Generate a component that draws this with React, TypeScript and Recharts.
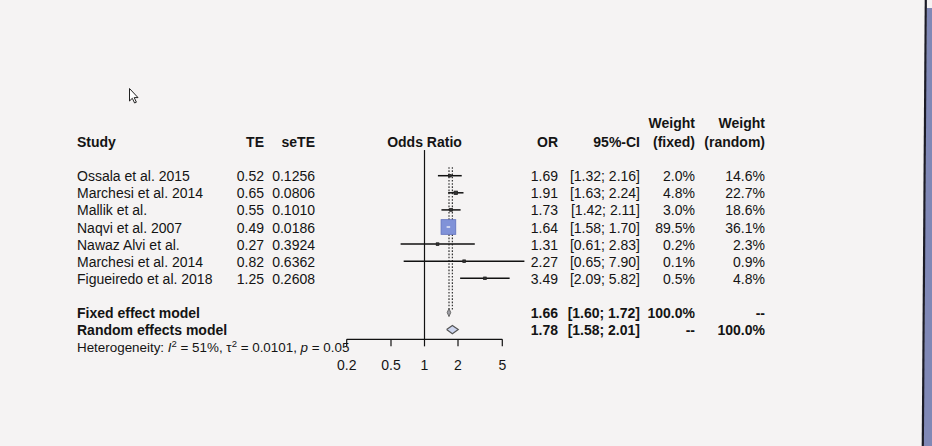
import React from 'react';
import { ComposedChart, Scatter, XAxis, YAxis, ReferenceLine } from 'recharts';

// ---------- data ----------
const studies = [
  'Ossala et al. 2015',
  'Marchesi et al. 2014',
  'Mallik et al.',
  'Naqvi et al. 2007',
  'Nawaz Alvi et al.',
  'Marchesi et al. 2014',
  'Figueiredo et al. 2018',
];
const teValues = ['0.52', '0.65', '0.55', '0.49', '0.27', '0.82', '1.25'];
const seTEValues = ['0.1256', '0.0806', '0.1010', '0.0186', '0.3924', '0.6362', '0.2608'];
const orValues = [1.69, 1.91, 1.73, 1.64, 1.31, 2.27, 3.49];
const ciLow = [1.32, 1.63, 1.42, 1.58, 0.61, 0.65, 2.09];
const ciHigh = [2.16, 2.24, 2.11, 1.7, 2.83, 7.9, 5.82];
const weightFixed = [2.0, 4.8, 3.0, 89.5, 0.2, 0.1, 0.5];
const weightRandom = [14.6, 22.7, 18.6, 36.1, 2.3, 0.9, 4.8];

const models = ['Fixed effect model', 'Random effects model'];
const modelOR = [1.66, 1.78];
const modelLow = [1.6, 1.58];
const modelHigh = [1.72, 2.01];
const modelWeightFixed = ['100.0%', '--'];
const modelWeightRandom = ['--', '100.0%'];

const xTicks = [0.2, 0.5, 1, 2, 5];

// ---------- layout ----------
const W = 932;
const H = 446;
const FONT = '"Liberation Sans", Arial, Helvetica, sans-serif';
const X_DOMAIN: [number, number] = [0.1, 10];
const PX_ONE = 424.5;
const PX_DECADE = 111.3;
const pxLeft = PX_ONE - PX_DECADE;
const pxRight = PX_ONE + PX_DECADE;
const ROW0 = 175.7;
const ROWSTEP = 17.1;
const Y_DOMAIN: [number, number] = [-1.5, 9.57];
const rowY = (r: number) => ROW0 + r * ROWSTEP;
const plotTop = rowY(Y_DOMAIN[0]);
const plotBottom = rowY(Y_DOMAIN[1]);
const AXIS_H = 40;

const FIXED_ROW = 8;
const RANDOM_ROW = 9;
const HET_ROW = 10;
const DIAMOND_H = 0.24;
const MAX_SQUARE = 14.7;

// ---------- derived series ----------
const ciSegments = studies.map((_, i) => [
  { x: ciLow[i], y: i },
  { x: ciHigh[i], y: i },
]);
const squares = studies.map((_, i) => ({ x: orValues[i], y: i, w: weightFixed[i] }));
const maxW = Math.max(...weightFixed);
const insideIdx = studies
  .map((_, i) => i)
  .filter((i) => {
    const s = MAX_SQUARE * Math.sqrt(weightFixed[i] / maxW);
    const half = s / 2 / PX_DECADE;
    return (
      Math.log10(orValues[i]) - Math.log10(ciLow[i]) < half &&
      Math.log10(ciHigh[i]) - Math.log10(orValues[i]) < half
    );
  });
const diamonds = models.map((_, k) => {
  const r = k === 0 ? FIXED_ROW : RANDOM_ROW;
  return [
    { x: modelLow[k], y: r },
    { x: modelOR[k], y: r - DIAMOND_H },
    { x: modelHigh[k], y: r },
    { x: modelOR[k], y: r + DIAMOND_H },
    { x: modelLow[k], y: r },
  ];
});

const NoShape = () => <g />;
const SquareShape = (props: any) => {
  const { cx, cy, payload } = props;
  const s = Math.max(2.6, MAX_SQUARE * Math.sqrt(payload.w / maxW));
  const big = s > 6;
  return (
    <rect
      x={cx - s / 2}
      y={cy - s / 2}
      width={s}
      height={s}
      fill={big ? '#8092d8' : '#333'}
      stroke={big ? '#6070bd' : '#222'}
      strokeWidth={0.8}
    />
  );
};

const fmt2 = (v: number) => v.toFixed(2);
const ci = (lo: number, hi: number) => `[${fmt2(lo)}; ${fmt2(hi)}]`;
const pct = (v: number) => `${v.toFixed(1)}%`;

const COL = {
  study: 77,
  te: 264,
  se: 315,
  or: 558,
  ci: 640,
  wf: 695,
  wr: 765,
};

const Txt = (p: any) => (
  <text fontFamily={FONT} fontSize={14} fill="#141414" {...p} />
);

export default function App() {
  const base = (r: number) => rowY(r) + 5.5;
  return (
    <div
      style={{
        position: 'absolute',
        left: 0,
        top: 0,
        width: W,
        height: H,
        background: '#f5f3f3',
        overflow: 'hidden',
      }}
    >
      <ComposedChart
        width={W}
        height={H}
        margin={{ top: plotTop, right: W - pxRight, left: pxLeft, bottom: H - plotBottom - AXIS_H }}
      >
        <XAxis
          type="number"
          dataKey="x"
          scale="log"
          domain={X_DOMAIN}
          ticks={xTicks}
          interval={0}
          axisLine={false}
          tickLine={{ stroke: '#111', strokeWidth: 1.2 }}
          tickSize={7}
          tickMargin={14}
          height={AXIS_H}
          tick={{ fontSize: 14, fill: '#141414', fontFamily: FONT }}
          tickFormatter={(v: number) => String(v)}
        />
        <YAxis type="number" dataKey="y" domain={Y_DOMAIN} reversed hide />

        {/* axis line */}
        <ReferenceLine
          segment={[
            { x: xTicks[0], y: Y_DOMAIN[1] },
            { x: xTicks[xTicks.length - 1], y: Y_DOMAIN[1] },
          ]}
          stroke="#111"
          strokeWidth={1.2}
          ifOverflow="visible"
        />
        {/* line of no effect */}
        <ReferenceLine
          segment={[
            { x: 1, y: Y_DOMAIN[0] },
            { x: 1, y: Y_DOMAIN[1] },
          ]}
          stroke="#111"
          strokeWidth={1.2}
          ifOverflow="visible"
        />
        {/* pooled estimate lines */}
        <ReferenceLine
          segment={[
            { x: modelOR[0], y: -0.5 },
            { x: modelOR[0], y: 7.9 },
          ]}
          stroke="#333"
          strokeWidth={1.2}
          strokeDasharray="1.6 1.6"
          ifOverflow="visible"
        />
        <ReferenceLine
          segment={[
            { x: modelOR[1], y: -0.5 },
            { x: modelOR[1], y: 7.9 },
          ]}
          stroke="#333"
          strokeWidth={1.2}
          strokeDasharray="1.6 1.6"
          ifOverflow="visible"
        />

        {ciSegments.map((seg, i) => (
          <Scatter
            key={`ci${i}`}
            data={seg}
            line={{ stroke: '#111', strokeWidth: 1.5 }}
            shape={NoShape}
            legendType="none"
            isAnimationActive={false}
          />
        ))}
        <Scatter data={squares} shape={SquareShape} legendType="none" isAnimationActive={false} />
        {insideIdx.map((i) => (
          <Scatter
            key={`in${i}`}
            data={ciSegments[i]}
            line={{ stroke: '#ffffff', strokeWidth: 1.2 }}
            shape={NoShape}
            legendType="none"
            isAnimationActive={false}
          />
        ))}
        <Scatter
          data={diamonds[0]}
          line={{ stroke: '#666', strokeWidth: 1, fill: '#a0a0a8' }}
          shape={NoShape}
          legendType="none"
          isAnimationActive={false}
        />
        <Scatter
          data={diamonds[1]}
          line={{ stroke: '#555', strokeWidth: 1.2, fill: '#cdd5ee' }}
          shape={NoShape}
          legendType="none"
          isAnimationActive={false}
        />
      </ComposedChart>

      <svg
        width={W}
        height={H}
        style={{ position: 'absolute', left: 0, top: 0, pointerEvents: 'none' }}
      >
        {/* headers */}
        <Txt x={COL.study} y={147} fontWeight="bold">Study</Txt>
        <Txt x={COL.te} y={147} fontWeight="bold" textAnchor="end">TE</Txt>
        <Txt x={COL.se} y={147} fontWeight="bold" textAnchor="end">seTE</Txt>
        <Txt x={PX_ONE} y={147} fontWeight="bold" textAnchor="middle">Odds Ratio</Txt>
        <Txt x={COL.or} y={147} fontWeight="bold" textAnchor="end">OR</Txt>
        <Txt x={COL.ci} y={147} fontWeight="bold" textAnchor="end">95%-CI</Txt>
        <Txt x={COL.wf} y={128} fontWeight="bold" textAnchor="end">Weight</Txt>
        <Txt x={COL.wf} y={147} fontWeight="bold" textAnchor="end">(fixed)</Txt>
        <Txt x={COL.wr} y={128} fontWeight="bold" textAnchor="end">Weight</Txt>
        <Txt x={COL.wr} y={147} fontWeight="bold" textAnchor="end">(random)</Txt>

        {studies.map((s, i) => (
          <g key={`row${i}`}>
            <Txt x={COL.study} y={base(i)}>{s}</Txt>
            <Txt x={COL.te} y={base(i)} textAnchor="end">{teValues[i]}</Txt>
            <Txt x={COL.se} y={base(i)} textAnchor="end">{seTEValues[i]}</Txt>
            <Txt x={COL.or} y={base(i)} textAnchor="end">{fmt2(orValues[i])}</Txt>
            <Txt x={COL.ci} y={base(i)} textAnchor="end">{ci(ciLow[i], ciHigh[i])}</Txt>
            <Txt x={COL.wf} y={base(i)} textAnchor="end">{pct(weightFixed[i])}</Txt>
            <Txt x={COL.wr} y={base(i)} textAnchor="end">{pct(weightRandom[i])}</Txt>
          </g>
        ))}

        {models.map((m, k) => {
          const r = k === 0 ? FIXED_ROW : RANDOM_ROW;
          return (
            <g key={`m${k}`}>
              <Txt x={COL.study} y={base(r)} fontWeight="bold">{m}</Txt>
              <Txt x={COL.or} y={base(r)} textAnchor="end" fontWeight="bold">{fmt2(modelOR[k])}</Txt>
              <Txt x={COL.ci} y={base(r)} textAnchor="end" fontWeight="bold">{ci(modelLow[k], modelHigh[k])}</Txt>
              <Txt x={COL.wf} y={base(r)} textAnchor="end" fontWeight="bold">{modelWeightFixed[k]}</Txt>
              <Txt x={COL.wr} y={base(r)} textAnchor="end" fontWeight="bold">{modelWeightRandom[k]}</Txt>
            </g>
          );
        })}

        <text x={COL.study} y={rowY(HET_ROW) + 5.5} fontFamily={FONT} fontSize={13.4} fill="#141414">
          Heterogeneity: <tspan fontStyle="italic">I</tspan>
          <tspan fontSize={9.5} dy={-5.5}>2</tspan>
          <tspan dy={5.5}> = 51%, τ</tspan>
          <tspan fontSize={9.5} dy={-5.5}>2</tspan>
          <tspan dy={5.5}> = 0.0101, </tspan>
          <tspan fontStyle="italic">p</tspan> = 0.05
        </text>

        {/* mouse cursor */}
        <path
          d="M129.5,88.5 L129.5,101 L132.3,98.3 L134.6,103 L136.4,102.2 L134.2,97.6 L138,97.6 Z"
          fill="#fff"
          stroke="#222"
          strokeWidth={1}
        />
        {/* monitor edge */}
        <polygon points="926.5,8 932,8 932,446 923.5,446" fill="#8088b6" />
        <line x1={925.8} y1={0} x2={922.8} y2={446} stroke="#1b1b26" strokeWidth={2.2} />
      </svg>
    </div>
  );
}
